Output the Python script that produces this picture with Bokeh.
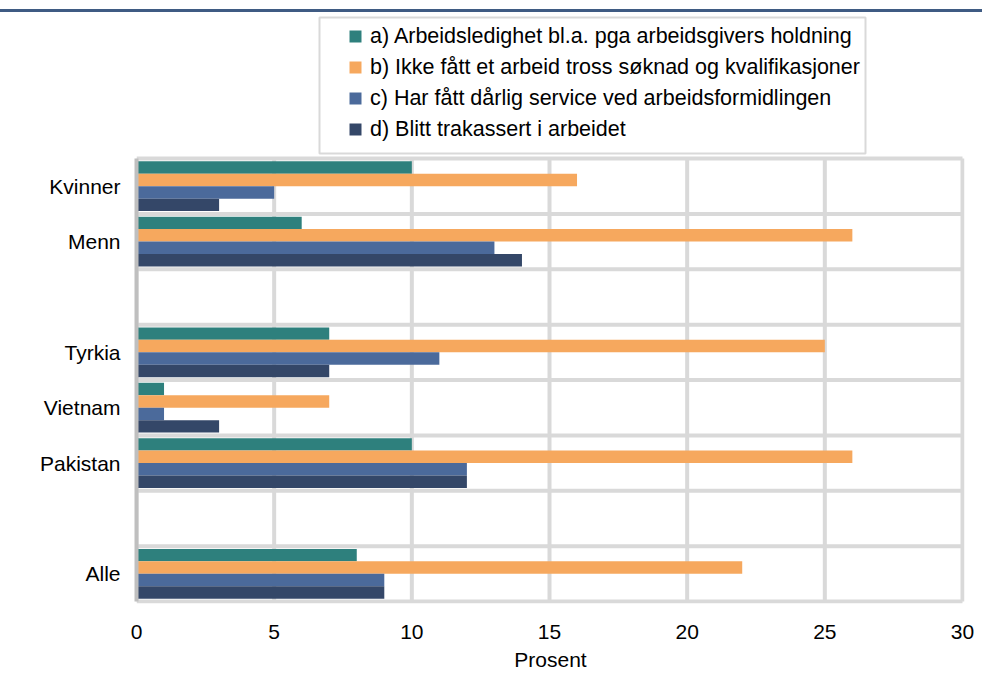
from bokeh.plotting import figure
from bokeh.models import (ColumnDataSource, FixedTicker, Range1d, Legend, LegendItem, Div,
                          BoxAnnotation)
from bokeh.layouts import column
from bokeh.transform import dodge
from bokeh.embed import file_html
from bokeh.resources import INLINE

# ---- data ----
categories = ["Kvinner", "Menn", "", "Tyrkia", "Vietnam", "Pakistan", "", "Alle"]
series_a = [10, 6, None, 7, 1, 10, None, 8]
series_b = [16, 26, None, 25, 7, 26, None, 22]
series_c = [5, 13, None, 11, 1, 12, None, 9]
series_d = [3, 14, None, 7, 3, 12, None, 9]
series_labels = [
    "a) Arbeidsledighet bl.a. pga arbeidsgivers holdning",
    "b) Ikke fått et arbeid tross søknad og kvalifikasjoner",
    "c) Har fått dårlig service ved arbeidsformidlingen",
    "d) Blitt trakassert i arbeidet",
]
x_ticks = [0, 5, 10, 15, 20, 25, 30]
x_label = "Prosent"

colors = ["#2E807D", "#F6A85E", "#4B6A9B", "#344768"]
GRID = "#D9D9D9"
FONT = "Liberation Sans"

n = len(categories)
rows = [i for i, c in enumerate(categories) if c]
src = ColumnDataSource(dict(
    y=[n - i - 0.5 for i in rows],
    a=[series_a[i] for i in rows],
    b=[series_b[i] for i in rows],
    c=[series_c[i] for i in rows],
    d=[series_d[i] for i in rows],
))

# frame spans the legend area too; the category rows fill its lower part
p = figure(width=982, height=665, output_backend="svg", toolbar_location=None,
           x_range=Range1d(0, 30.073), y_range=Range1d(-0.036, 10.637),
           min_border_left=136, min_border_right=18, min_border_top=0,
           min_border_bottom=74)
p.outline_line_color = None
p.background_fill_color = "white"
p.border_fill_color = "white"
p.grid.visible = False

# grid lines limited to the category block
p.segment(x0=x_ticks, y0=0, x1=x_ticks, y1=n, line_color=GRID, line_width=4)
p.segment(x0=0, y0=list(range(n + 1)), x1=x_ticks[-1], y1=list(range(n + 1)),
          line_color=GRID, line_width=4)

bar_h = 0.225
offsets = [1.5 * bar_h, 0.5 * bar_h, -0.5 * bar_h, -1.5 * bar_h]
swatches = []
for key, col, off in zip(["a", "b", "c", "d"], colors, offsets):
    p.hbar(y=dodge("y", off, range=p.y_range), right=key, left=0, height=bar_h,
           source=src, fill_color=col, line_color=None)
    # zero-size square markers: only used to draw the legend swatch
    swatches.append(p.scatter(x=key, y="y", source=src, marker="square", size=0,
                              fill_color=col, line_color=None))

# axes
p.xaxis.ticker = FixedTicker(ticks=x_ticks)
p.xaxis.axis_line_color = None
p.xaxis.major_tick_line_color = None
p.xaxis.minor_tick_line_color = None
p.xaxis.major_label_text_font = FONT
p.xaxis.major_label_text_font_size = "21px"
p.xaxis.major_label_text_color = "black"
p.xaxis.major_label_standoff = 15
p.xaxis.axis_label = x_label
p.xaxis.axis_label_text_font = FONT
p.xaxis.axis_label_text_font_size = "21px"
p.xaxis.axis_label_text_font_style = "normal"
p.xaxis.axis_label_text_color = "black"
p.xaxis.axis_label_standoff = 6

centers = [n - i - 0.5 for i in rows]
p.yaxis.ticker = FixedTicker(ticks=centers)
p.yaxis.major_label_overrides = {n - i - 0.5: categories[i] for i in rows}
p.yaxis.bounds = (0, n)
p.yaxis.axis_line_color = "#BFBFBF"
p.yaxis.axis_line_width = 4
p.yaxis.major_tick_line_color = None
p.yaxis.minor_tick_line_color = None
p.yaxis.major_label_text_font = FONT
p.yaxis.major_label_text_font_size = "21px"
p.yaxis.major_label_text_color = "black"
p.yaxis.major_label_standoff = 10

# legend frame
p.add_layout(BoxAnnotation(left=319, right=865, top=5, bottom=141,
                           left_units="canvas", right_units="canvas",
                           top_units="canvas", bottom_units="canvas",
                           fill_color="white", fill_alpha=1,
                           line_color=GRID, line_width=2, line_alpha=1))

legend = Legend(items=[LegendItem(label=l, renderers=[r]) for l, r in zip(series_labels, swatches)],
                location=(204, 459), orientation="vertical",
                glyph_width=30, glyph_height=30, label_height=30, spacing=1,
                padding=0, label_standoff=0, margin=0,
                label_text_font=FONT, label_text_font_size="21.5px",
                label_text_color="black", label_text_baseline="middle",
                background_fill_alpha=0, border_line_color=None)
p.add_layout(legend, "center")

rule = Div(text="", width=982, height=3, margin=(9, 0, 0, 0),
           styles={"background-color": "#3F5B83"})

layout = column(rule, p, spacing=0)
open("out.html", "w").write(file_html(layout, INLINE))
